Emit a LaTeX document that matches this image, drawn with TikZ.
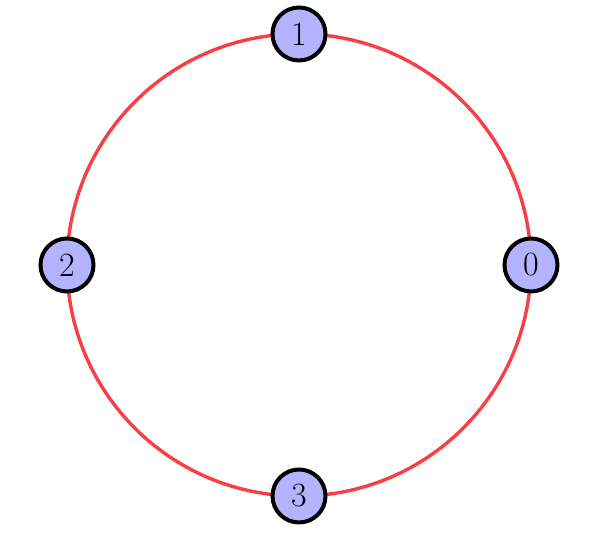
\documentclass[tikz,border=0pt]{standalone}
\usetikzlibrary{backgrounds,calc}
\definecolor{nodefill}{RGB}{179,179,255}
\definecolor{edgered}{RGB}{250,62,70}
\tikzset{
  vertex/.style={circle, draw=black, line width=2pt, fill=nodefill, minimum size=26.5pt, inner sep=0pt, font=\fontsize{17}{20}\selectfont},
  ring/.style={draw=edgered, line width=1.7pt}
}
\begin{document}
\begin{tikzpicture}[x=1pt,y=1pt]
\useasboundingbox (0,0) rectangle (298,272);
\coordinate (c) at (149.5,139.5);
\node[vertex] (n0) at ($(c)+(116,0)$) {0};
\node[vertex] (n1) at ($(c)+(0,115.5)$) {1};
\node[vertex] (n2) at ($(c)+(-116,0)$) {2};
\node[vertex] (n3) at ($(c)+(0,-115.5)$) {3};
\begin{scope}[on background layer]
\draw[ring] (n0.center) to[bend right=45] (n1.center);
\draw[ring] (n1.center) to[bend right=45] (n2.center);
\draw[ring] (n2.center) to[bend right=45] (n3.center);
\draw[ring] (n3.center) to[bend right=45] (n0.center);
\end{scope}
\end{tikzpicture}
\end{document}
